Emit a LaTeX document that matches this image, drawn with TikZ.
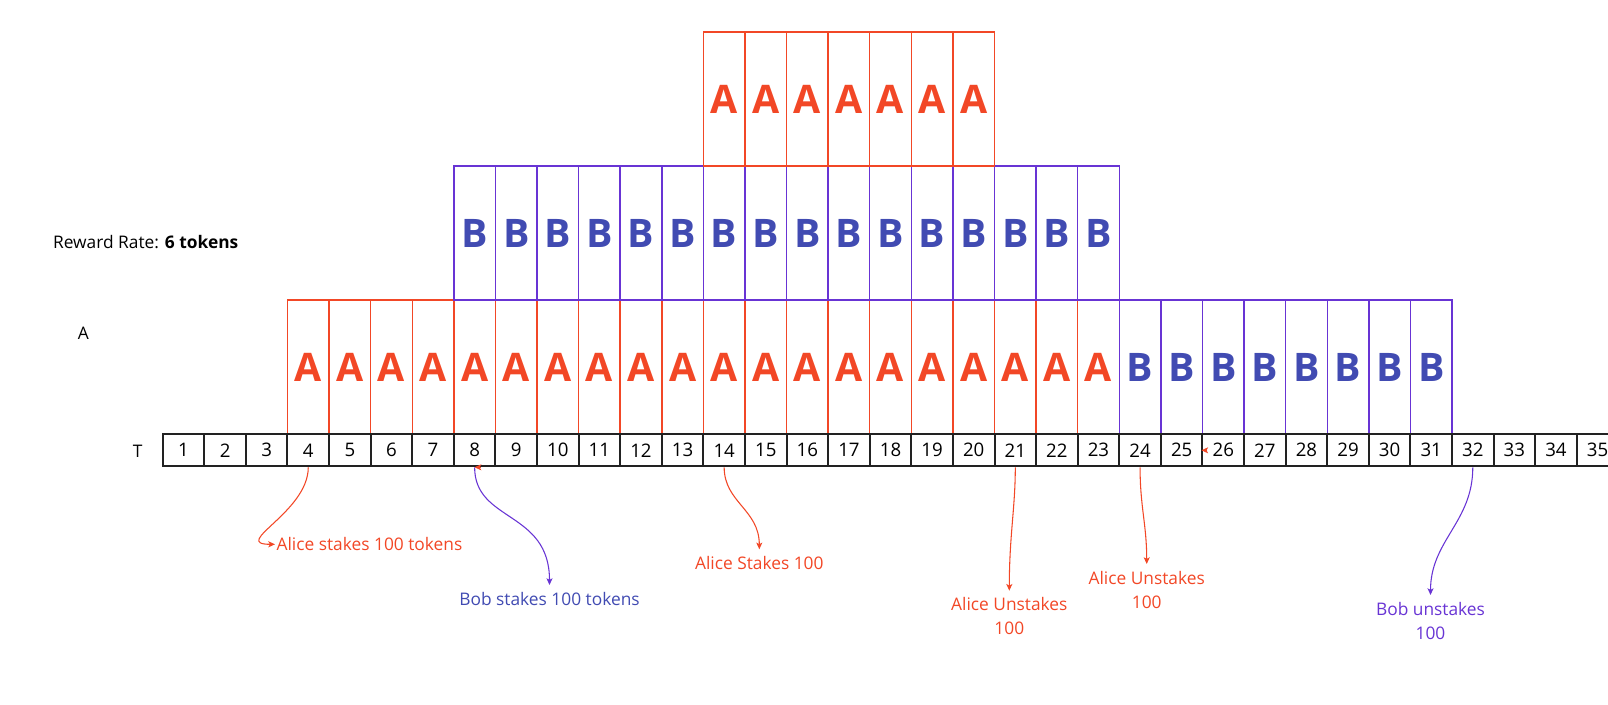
\documentclass[tikz,border=0pt]{standalone}
\usepackage{fontspec}
\setmainfont{Open Sans}
\usetikzlibrary{arrows.meta,calc}

\definecolor{alicered}{RGB}{242,71,38}
\definecolor{bobblue}{RGB}{65,75,178}
\definecolor{bobpurple}{RGB}{104,52,212}
\definecolor{gridgray}{RGB}{34,34,34}

\begin{document}
\begin{tikzpicture}[x=0.75pt,y=0.75pt,yscale=-1,xscale=1,
  tcell/.style={draw=gridgray,line width=1.5pt,minimum width=31.19pt,minimum height=24pt,inner sep=0pt,font=\fontsize{14}{16}\selectfont},
  ablock/.style={draw=alicered,line width=1.1pt,minimum width=31.19pt,minimum height=100.5pt,inner sep=0pt,text=alicered,font=\fontsize{29.5}{32}\selectfont\bfseries},
  bblock/.style={ablock,draw=bobpurple,text=bobblue},
  note/.style={inner sep=1pt,align=center,font=\fontsize{13}{18}\selectfont},
  tip/.style={-{Stealth[length=5pt,width=4.5pt,inset=1.2pt]},line width=0.8pt},
  gap/.style={shorten >=4pt}]
\useasboundingbox (0,0) rectangle (1608,704);

%Shape: staked blocks, bottom row
\foreach \i in {4,...,23}
  \node[ablock] (low\i) at ({162.7+(\i-0.5)*41.59},367.2) {A};
\foreach \i in {24,...,31}
  \node[bblock] (low\i) at ({162.7+(\i-0.5)*41.59},367.2) {B};
%Shape: staked blocks, middle row
\foreach \i in {8,...,23}
  \node[bblock] (mid\i) at ({162.7+(\i-0.5)*41.59},233) {B};
%Shape: staked blocks, top row
\foreach \i in {14,...,20}
  \node[ablock] (top\i) at ({162.7+(\i-0.5)*41.59},99) {A};

%Shape: time line
\foreach \i in {1,...,35}
  \node[tcell] (t\i) at ({162.7+(\i-0.5)*41.59},450.3) {\i};

% Text Node
\node[note,anchor=west] (rate) at (51.5,241.7) {Reward Rate: \textbf{6 tokens}};
% Text Node
\node[note] (rowA) at (83.3,333.3) {A};
% Text Node
\node[note] (rowT) at (137.7,451.7) {T};

% Text Node
\node[note,anchor=west,text=alicered] (alice4) at (275,544.3) {Alice stakes 100 tokens};
% Text Node
\node[note,anchor=north,text=bobblue] (bob8) at (549.5,590.3) {Bob stakes 100 tokens};
% Text Node
\node[note,anchor=north,text=alicered] (alice14) at (759.3,554.6) {Alice Stakes 100};
% Text Node
\node[note,anchor=north,text=alicered] (alice21) at (1009.3,596) {Alice Unstakes\\100};
% Text Node
\node[note,anchor=north,text=alicered] (alice24) at (1146.7,569.3) {Alice Unstakes\\100};
% Text Node
\node[note,anchor=north,text=bobpurple] (bob32) at (1430.5,600.3) {Bob unstakes\\100};

%Curve Lines
\draw[tip,alicered] (t4.south) .. controls ($(t4.south)+(0,45)$) and ($(alice4.west)+(-45,0)$) .. (alice4.west);
\draw[tip,gap,bobpurple] (t8.south) .. controls ($(t8.south)+(0,55)$) and ($(bob8.north)+(0,-80)$) .. (bob8.north);
\draw[tip,gap,alicered] (t14.south) .. controls ($(t14.south)+(0,35)$) and ($(alice14.north)+(0,-45)$) .. (alice14.north);
\draw[tip,gap,alicered] (t21.south) .. controls ($(t21.south)+(0,40)$) and ($(alice21.north)+(0,-60)$) .. (alice21.north);
\draw[tip,gap,alicered] (t24.south) .. controls ($(t24.south)+(0,40)$) and ($(alice24.north)+(0,-45)$) .. (alice24.north);
\draw[tip,gap,bobpurple] (t32.south) .. controls ($(t32.south)+(0,55)$) and ($(bob32.north)+(0,-60)$) .. (bob32.north);

%Straight Lines, stray tips
\coordinate (s8) at ($(t8.south)+(6,0)$);
\coordinate (s26) at ($(t26.west)+(6,0)$);
\draw[tip,alicered] (s8) -- (t8.south);
\draw[tip,alicered] (s26) -- (t26.west);

\end{tikzpicture}
\end{document}
